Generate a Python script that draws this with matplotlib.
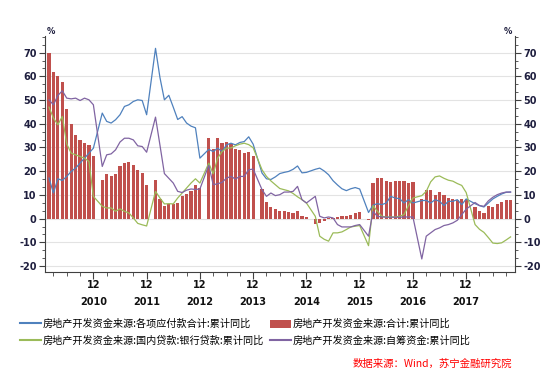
import numpy as np
import pandas as pd
import matplotlib
matplotlib.use('Agg')
import matplotlib.pyplot as plt
import matplotlib.transforms as mtransforms
from matplotlib.ticker import MultipleLocator, FixedLocator
from matplotlib.patches import Patch
from matplotlib.lines import Line2D

plt.rcParams['font.family'] = ['Noto Sans CJK SC', 'DejaVu Sans']

# 月份：2010-02 ~ 2018-10，每年1月没有数据
dates = pd.date_range('2010-02-01', '2018-10-01', freq='MS')
dates = dates[dates.month != 1]

# 房地产开发资金来源:合计:累计同比 (柱)
total = [
    70.0, 61.7, 60.3, 57.8, 46.1, 40.0, 35.3, 33.0, 31.8, 31.0, 26.2,   # 2010
    16.4, 18.9, 17.8, 18.9, 22.3, 23.4, 23.7, 22.7, 20.6, 19.2, 14.3,   # 2011
    16.4, 8.4, 5.2, 6.0, 6.3, 6.6, 9.4, 10.2, 11.6, 14.3, 12.9,         # 2012
    34.2, 29.3, 33.8, 32.0, 32.4, 31.6, 29.2, 29.0, 27.5, 27.9, 26.5,   # 2013
    12.5, 6.9, 4.9, 4.2, 3.3, 3.3, 2.7, 2.4, 3.2, 1.1, 0.6,             # 2014
    -2.2, -2.0, -1.1, 0.2, 0.4, 0.6, 1.0, 1.3, 1.7, 2.2, 2.8,           # 2015
    -0.4, 15.0, 17.1, 17.1, 16.0, 15.3, 16.0, 16.0, 16.0, 15.0, 15.4,   # 2016
    8.3, 11.9, 11.9, 10.1, 11.2, 10.1, 8.7, 8.3, 8.0, 8.3, 8.2,         # 2017
    4.8, 3.1, 2.4, 5.2, 4.8, 6.3, 7.0, 8.0, 8.0,                        # 2018
]

# 各项应付款合计
payables = [
    17.1, 10.8, 16.8, 16.1, 17.8, 19.9, 21.3, 23.4, 25.5, 27.6, 29.7,
    44.5, 41.0, 40.3, 41.7, 43.8, 47.3, 48.0, 49.4, 50.1, 49.8, 43.8,
    71.8, 59.5, 50.1, 52.0, 47.0, 41.8, 43.0, 40.3, 39.0, 38.3, 25.5,
    29.2, 28.3, 29.7, 28.3, 31.1, 31.8, 31.1, 32.1, 32.5, 34.5, 31.4,
    19.2, 16.8, 16.5, 17.6, 19.0, 19.5, 19.9, 20.8, 22.2, 19.3, 19.5,
    20.8, 21.3, 20.1, 18.5, 16.0, 14.2, 12.6, 11.8, 12.6, 13.1, 12.5,
    2.6, 5.7, 6.3, 5.9, 6.6, 9.4, 8.7, 8.4, 6.6, 8.0, 6.6,
    7.6, 7.7, 6.6, 8.0, 7.3, 5.5, 7.3, 7.3, 8.0, 5.9, 8.3,
    6.3, 5.5, 4.9, 6.6, 8.3, 9.4, 10.4, 11.1, 11.2,
]

# 国内贷款:银行贷款
bank_loans = [
    47.0, 42.4, 39.6, 43.1, 31.5, 27.6, 26.9, 26.2, 25.5, 24.1, 9.4,
    5.2, 4.5, 4.5, 3.1, 4.1, 3.1, 2.4, 0.3, -2.0, -2.6, -3.1,
    11.5, 8.7, 6.2, 6.3, 6.2, 8.7, 10.8, 12.9, 15.0, 16.8, 15.0,
    23.4, 18.9, 25.5, 28.3, 29.7, 29.8, 30.7, 31.4, 31.8, 31.2, 29.9,
    20.6, 17.8, 15.9, 14.3, 12.7, 12.2, 11.7, 10.6, 9.2, 8.0, 6.6,
    1.0, -7.4, -8.7, -9.5, -6.0, -6.0, -5.6, -4.6, -3.5, -3.2, -2.9,
    -11.4, 5.5, 3.1, 1.0, 0.7, 0.7, 0.7, 1.0, 1.7, 5.5, 8.7,
    9.7, 11.5, 15.5, 17.6, 18.0, 17.0, 16.2, 15.8, 14.8, 14.0, 11.0,
    -2.5, -4.5, -5.8, -8.0, -10.3, -10.5, -10.2, -9.0, -7.7,
]

# 自筹资金
self_raised = [
    50.1, 48.0, 51.9, 53.9, 50.8, 50.5, 50.8, 49.8, 50.8, 50.1, 48.0,
    22.0, 26.9, 27.3, 29.0, 32.3, 33.9, 33.9, 33.2, 30.7, 30.4, 28.0,
    42.8, 31.0, 19.0, 17.0, 15.0, 11.5, 11.0, 12.0, 12.5, 12.3, 12.5,
    22.5, 14.3, 14.7, 15.3, 17.1, 17.8, 16.7, 17.8, 17.8, 20.6, 20.9,
    12.2, 9.4, 10.8, 9.7, 10.1, 11.2, 11.2, 11.5, 13.6, 8.0, 6.6,
    9.4, 1.0, 0.3, 0.7, 0.3, -2.5, -3.5, -3.5, -3.5, -2.9, -2.5,
    -7.4, 3.0, 1.0, 0.7, 0.6, 0.6, 0.6, 0.6, 0.7, 0.7, 0.7,
    -17.0, -7.4, -6.0, -4.6, -3.9, -2.9, -2.5, -1.8, -0.7, 1.7, 4.0,
    6.8, 5.5, 5.2, 7.5, 9.0, 10.1, 10.8, 11.2, 11.2,
]

names = ['房地产开发资金来源:各项应付款合计:累计同比',
         '房地产开发资金来源:合计:累计同比',
         '房地产开发资金来源:国内贷款:银行贷款:累计同比',
         '房地产开发资金来源:自筹资金:累计同比']
year_labels = ['2010', '2011', '2012', '2013', '2014', '2015', '2016', '2017']

c_blue = '#4F81BD'
c_red = '#C0504D'
c_green = '#9BBB59'
c_purple = '#8064A2'
axis_c = '#404040'
tick_c = '#1f1f3f'

# 月份序号，2010年1月 = 0
x = np.array((dates.year - 2010) * 12 + dates.month - 1)

fig = plt.figure(figsize=(5.5, 3.79), dpi=100)
ax = fig.add_axes([45 / 550, 1 - 272 / 379, 470 / 550, 236 / 379])

ax.bar(x, total, width=0.72, color=c_red, zorder=2)
ax.plot(x, payables, color=c_blue, lw=0.9, zorder=3)
ax.plot(x, bank_loans, color=c_green, lw=0.9, zorder=3)
ax.plot(x, self_raised, color=c_purple, lw=0.9, zorder=3)

ax.set_xlim(0.1, 106.0)
ax.set_ylim(-22.5, 77.0)

# y 轴（左右两侧相同刻度）
yt = list(range(-20, 80, 10))
ax.set_yticks(yt)
ax.set_yticklabels([str(v) for v in yt], fontweight='bold', family='DejaVu Sans')
ax.yaxis.set_minor_locator(MultipleLocator(10 / 3))
ax.tick_params(axis='y', which='both', left=True, right=True,
               labelleft=True, labelright=True, color=axis_c, direction='out')
ax.tick_params(axis='y', which='major', length=4, width=0.8,
               labelsize=7, labelcolor=tick_c, pad=2)
ax.tick_params(axis='y', which='minor', length=2, width=0.6)
ax.grid(axis='y', which='major', color='#e3e3e3', lw=0.8, zorder=0)
ax.set_axisbelow(True)

# x 轴：12月为主刻度，季度为次刻度
dec_pos = [11 + 12 * i for i in range(len(year_labels))]
ax.xaxis.set_major_locator(FixedLocator(dec_pos))
ax.xaxis.set_minor_locator(FixedLocator([m for m in range(2, 106, 3) if m not in dec_pos]))
ax.set_xticklabels([])
ax.tick_params(axis='x', which='major', length=5, width=0.8, color=axis_c)
ax.tick_params(axis='x', which='minor', length=3, width=0.6, color=axis_c)

trans = mtransforms.blended_transform_factory(ax.transData, ax.transAxes)
for p, yr in zip(dec_pos, year_labels):
    ax.text(p, -0.055, '12', transform=trans, ha='center', va='center',
            fontsize=7, fontweight='bold', family='DejaVu Sans', color='#111111')
    ax.text(p, -0.128, yr, transform=trans, ha='center', va='center',
            fontsize=7, fontweight='bold', family='DejaVu Sans', color='#111111')

ax.spines['top'].set_visible(False)
for s in ['left', 'right', 'bottom']:
    ax.spines[s].set_color(axis_c)
    ax.spines[s].set_linewidth(0.8)

ax.text(0.004, 1.0, '%', transform=ax.transAxes, ha='left', va='bottom',
        fontsize=6, fontweight='bold', family='DejaVu Sans', color=tick_c)
ax.text(0.993, 1.0, '%', transform=ax.transAxes, ha='right', va='bottom',
        fontsize=6, fontweight='bold', family='DejaVu Sans', color=tick_c)

handles = [Line2D([], [], color=c_blue, lw=1.5),
           Line2D([], [], color=c_green, lw=1.5),
           Patch(facecolor=c_red, edgecolor='none'),
           Line2D([], [], color=c_purple, lw=1.5)]
labels = [names[0], names[2], names[1], names[3]]
fig.legend(handles, labels, loc='upper left', bbox_to_anchor=(20 / 550, 1 - 319 / 379),
           ncol=2, frameon=False, fontsize=7.3, handlelength=2.1, handleheight=0.9,
           handletextpad=0.15, columnspacing=0.6, labelspacing=0.65, borderpad=0,
           borderaxespad=0)

fig.text(512 / 550, 1 - 364 / 379, '数据来源：Wind，苏宁金融研究院', ha='right', va='center',
         color='#ff0000', style='italic', fontsize=7.5)

fig.savefig('out.png', dpi=100)
